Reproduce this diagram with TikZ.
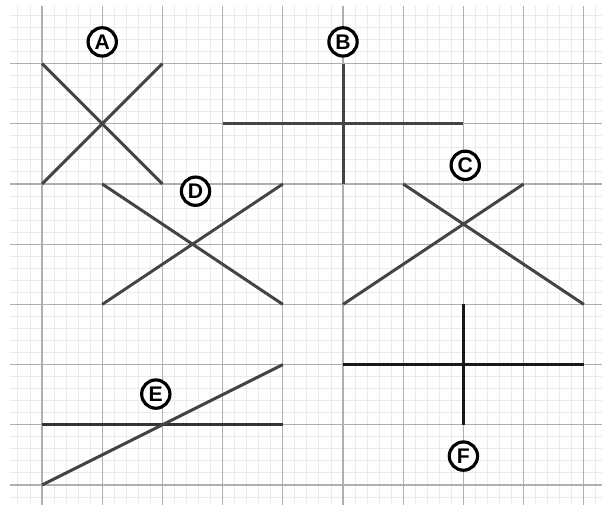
\documentclass[tikz,border=0pt]{standalone}
\usepackage{fontspec}
\setmainfont{Liberation Sans}
\usetikzlibrary{positioning}
\definecolor{LINE_COLOR}{HTML}{444444}
\definecolor{MINOR_COLOR}{HTML}{EBEBEB}
\definecolor{MAJOR_COLOR}{HTML}{B0B0B0}
\tikzstyle{minor_grid} = [draw=MINOR_COLOR, line width=0.45pt]
\tikzstyle{major_grid} = [draw=MAJOR_COLOR, line width=0.55pt]
\tikzstyle{segment}    = [draw=LINE_COLOR, line width=1.4pt]
\tikzstyle{segment_dk} = [draw=black!90, line width=1.8pt]
\tikzstyle{tag}        = [circle, draw=black, line width=1.5pt, fill=white, inner sep=0pt, minimum size=0.47cm, font=\fontsize{10}{10}\selectfont\bfseries]

\begin{document}
\begin{tikzpicture}
      \useasboundingbox (-0.698,-0.365) rectangle (9.302,8.056);
      \fill[white] (-0.698,-0.365) rectangle (9.302,8.056);

      %%%%%%%%%%%%%%%%%%%%%%%%%%%%%%%%%%%%%%%%%%%%%%%%%
      % GRID PAPER
      %%%%%%%%%%%%%%%%%%%%%%%%%%%%%%%%%%%%%%%%%%%%%%%%%
      \draw[minor_grid, step=0.2] (-0.53,-0.33) grid (9.302,7.96);
      \draw[major_grid, step=1] (-0.53,-0.33) grid (9.302,7.96);

      %%%%%%%%%%%%%%%%%%%%%%%%%%%%%%%%%%%%%%%%%%%%%%%%%
      % FIGURES
      %%%%%%%%%%%%%%%%%%%%%%%%%%%%%%%%%%%%%%%%%%%%%%%%%
      % A
      \coordinate (A1) at (0,7);  \coordinate (A2) at (2,5);
      \coordinate (A3) at (0,5);  \coordinate (A4) at (2,7);
      \draw[segment] (A1) -- (A2);
      \draw[segment] (A3) -- (A4);
      \node[tag] (tagA) at (1,7.36) {A};

      % B
      \coordinate (B1) at (5,7);  \coordinate (B2) at (5,5);
      \coordinate (B3) at (3,6);  \coordinate (B4) at (7,6);
      \draw[segment] (B1) -- (B2);
      \draw[segment] (B3) -- (B4);
      \node[tag] (tagB) at (5,7.36) {B};

      % D
      \coordinate (D1) at (1,5);  \coordinate (D2) at (4,3);
      \coordinate (D3) at (4,5);  \coordinate (D4) at (1,3);
      \draw[segment] (D1) -- (D2);
      \draw[segment] (D3) -- (D4);
      \node[tag] (tagD) at (2.55,4.88) {D};

      % C
      \coordinate (C1) at (6,5);  \coordinate (C2) at (9,3);
      \coordinate (C3) at (8,5);  \coordinate (C4) at (5,3);
      \draw[segment] (C1) -- (C2);
      \draw[segment] (C3) -- (C4);
      \node[tag] (tagC) at (7.03,5.31) {C};

      % E
      \coordinate (E1) at (0,1);  \coordinate (E2) at (4,1);
      \coordinate (E3) at (0,0);  \coordinate (E4) at (4,2);
      \draw[segment, draw=black!80] (E1) -- (E2);
      \draw[segment] (E3) -- (E4);
      \node[tag] (tagE) at (1.89,1.51) {E};

      % F
      \coordinate (F1) at (5,2);  \coordinate (F2) at (9,2);
      \coordinate (F3) at (7,3);  \coordinate (F4) at (7,1);
      \draw[segment_dk] (F1) -- (F2);
      \draw[segment_dk] (F3) -- (F4);
      \node[tag] (tagF) at (7,0.48) {F};
\end{tikzpicture}
\end{document}
